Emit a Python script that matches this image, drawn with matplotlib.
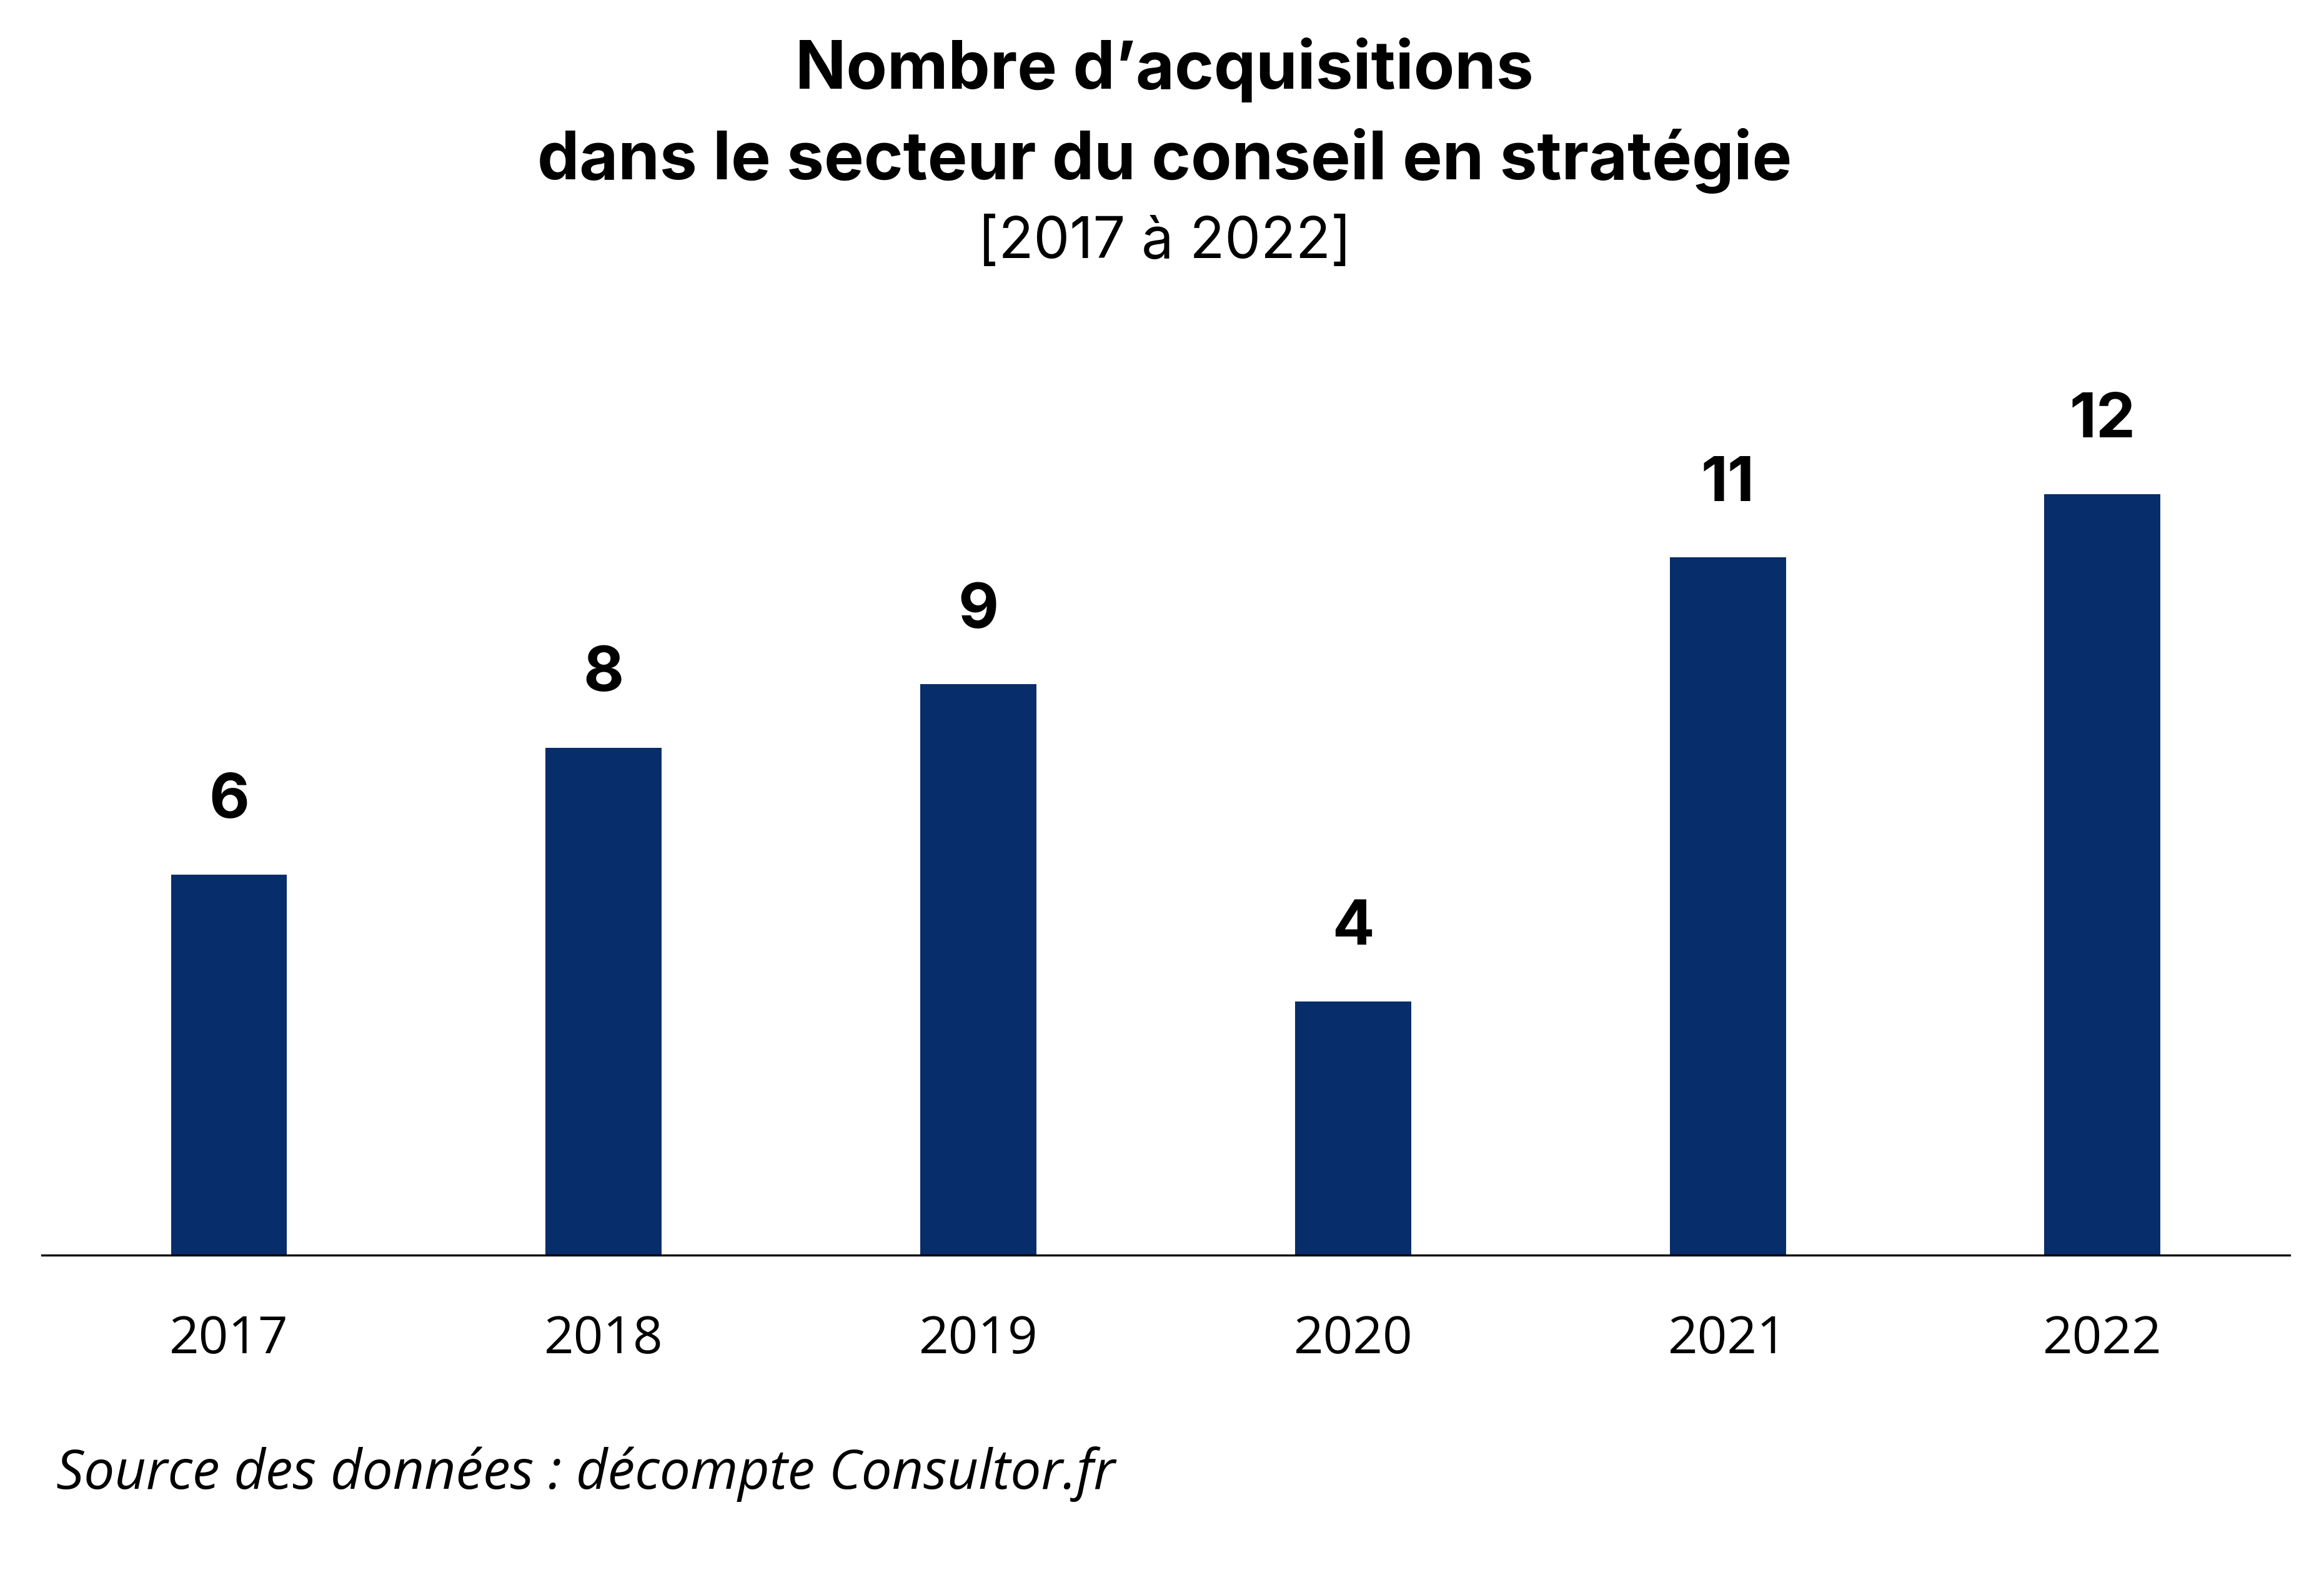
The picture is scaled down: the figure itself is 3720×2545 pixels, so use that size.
import matplotlib
matplotlib.use("Agg")
import matplotlib.pyplot as plt

years = ['2017', '2018', '2019', '2020', '2021', '2022']
acquisitions = [6, 8, 9, 4, 11, 12]

title_l1 = "Nombre d\u2019acquisitions"
title_l2 = "dans le secteur du conseil en strat\u00e9gie"
subtitle = "[2017 \u00e0 2022]"
source = "Source des donn\u00e9es : d\u00e9compte Consultor.fr"

bar_color = '#082d6b'

fig = plt.figure(figsize=(18.6, 12.725), dpi=200)
ax = fig.add_axes([0.0179, 0.2106, 0.9674, 0.5585])

x = range(len(years))
bars = ax.bar(x, acquisitions, width=0.31, color=bar_color)

# value labels above the bars
for b, v in zip(bars, acquisitions):
    ax.annotate(str(v), (b.get_x() + b.get_width() / 2, v),
                xytext=(0, 42), textcoords='offset points',
                ha='center', va='center', fontsize=36, fontweight='bold',
                family='Inter')

ax.set_xlim(-0.5, 5.5)
ax.set_ylim(0, 14)
ax.set_xticks(list(x))
ax.set_xticklabels(years, fontsize=30, family='Open Sans')
ax.tick_params(axis='x', length=0, pad=34)
ax.set_yticks([])
for s in ['top', 'left', 'right']:
    ax.spines[s].set_visible(False)
ax.spines['bottom'].set_linewidth(1.2)

fig.text(0.501, 0.956, title_l1, ha='center', va='center', fontsize=38.5,
         fontweight='bold', family='Inter')
fig.text(0.501, 0.899, title_l2, ha='center', va='center', fontsize=38.5,
         fontweight='bold', family='Inter')
fig.text(0.501, 0.847, subtitle, ha='center', va='center', fontsize=33,
         family='Inter')
fig.text(0.0242, 0.073, source, ha='left', va='center', fontsize=31.5,
         style='italic', family='Open Sans')

fig.savefig('out.png', dpi=200, facecolor='white')
